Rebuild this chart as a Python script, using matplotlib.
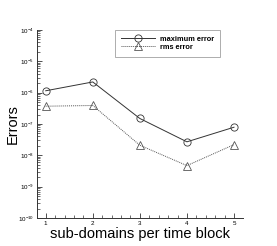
import matplotlib
matplotlib.use("Agg")
import matplotlib.pyplot as plt
from matplotlib.ticker import LogLocator, MultipleLocator, FixedLocator, NullFormatter

subdomains = [1, 2, 3, 4, 5]
max_error = [1.15e-6, 2.2e-6, 1.5e-7, 2.7e-8, 7.9e-8]
rms_error = [3.7e-7, 3.9e-7, 2.1e-8, 4.7e-9, 2.2e-8]
ytick_vals = [1e-10, 1e-9, 1e-8, 1e-7, 1e-6, 1e-5, 1e-4]
ytick_labels = [r'$10^{-10}$', r'$10^{-9}$', r'$10^{-8}$', r'$10^{-7}$',
                r'$10^{-6}$', r'$10^{-5}$', r'$10^{-4}$']

plt.rcParams['font.family'] = ['Liberation Sans', 'DejaVu Sans']
plt.rcParams['mathtext.fontset'] = 'custom'
plt.rcParams['mathtext.rm'] = 'Liberation Sans'

fig = plt.figure(figsize=(2.77, 2.46), dpi=100)
ax = fig.add_axes([0.1336, 0.1138, 0.877 - 0.1336, 0.878 - 0.1138])

ax.plot(subdomains, max_error, color='#333333', lw=0.7, marker='o', ms=5.2,
        mfc='none', mec='#333333', mew=0.6, label='maximum error')
ax.plot(subdomains, rms_error, color='#555555', lw=0.7, ls=(0, (1, 1)), marker='^', ms=5.2,
        mfc='none', mec='#555555', mew=0.6, label='rms error')

ax.set_yscale('log')
ax.set_ylim(1e-10, 1e-4)
ax.set_xlim(0.815, 5.19)
ax.yaxis.set_major_locator(FixedLocator(ytick_vals))
ax.set_yticklabels(ytick_labels)
ax.yaxis.set_minor_locator(LogLocator(base=10, subs=range(2, 10)))
ax.yaxis.set_minor_formatter(NullFormatter())
ax.set_xticks(subdomains)
ax.set_xticklabels([str(s) for s in subdomains])
ax.xaxis.set_minor_locator(MultipleLocator(0.2))

for s in ['top', 'right']:
    ax.spines[s].set_visible(False)
for s in ['left', 'bottom']:
    ax.spines[s].set_linewidth(0.7)
    ax.spines[s].set_color('#333333')

ax.tick_params(which='major', direction='in', length=3.5, width=0.6, labelsize=4.5, pad=2, color='#333333')
ax.tick_params(which='minor', direction='in', length=2, width=0.5, color='#333333')

ax.set_xlabel('sub-domains per time block', fontsize=10.5, labelpad=1)
ax.set_ylabel('Errors', fontsize=10.5)
ax.yaxis.set_label_coords(-0.085, 0.5)

leg = ax.legend(loc='upper left', bbox_to_anchor=(0.3786, 1.0), borderaxespad=0,
                frameon=True, fancybox=False, edgecolor='#888888', handlelength=4.6,
                borderpad=0.8, labelspacing=0.1, handletextpad=0.7,
                prop={'weight': 'bold', 'size': 5.3})
leg.get_frame().set_linewidth(0.6)

fig.savefig('out.png', dpi=100)
